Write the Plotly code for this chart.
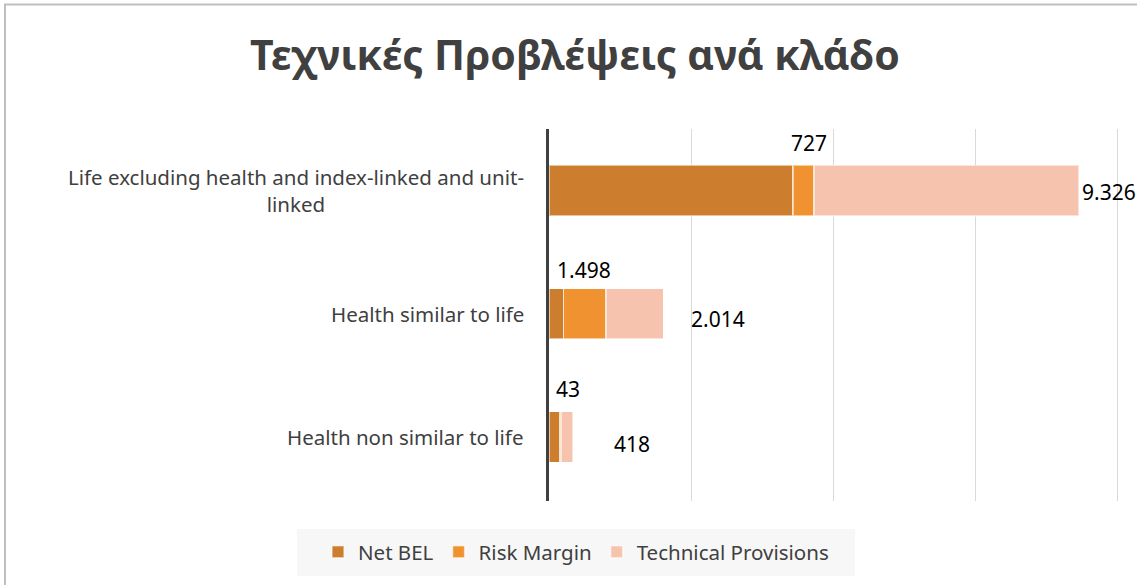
import plotly.graph_objects as go

# ---- data ----
categories = [
    "Life excluding health and index-linked and unit-linked",
    "Health similar to life",
    "Health non similar to life",
]
category_labels = [
    "Life excluding health and index-linked and unit-<br>linked",
    "Health similar to life",
    "Health non similar to life",
]
net_bel = [8599, 516, 375]
risk_margin = [727, 1498, 43]
technical_provisions = [9326, 2014, 418]
series_names = ["Net BEL", "Risk Margin", "Technical Provisions"]
x_ticks = [0, 5000, 10000, 15000, 20000]

title_text = "Τεχνικές Προβλέψεις ανά κλάδο"

# ---- style ----
W, H = 1137, 585
L, T, B = 549, 129, 501          # plot area in pixels
GRID_END = 1117                   # pixel of the last gridline (x = 20000)
R = 1120                          # right edge of plot area (just past last gridline)
x_max = x_ticks[-1] * (R - L) / (GRID_END - L)
colors = ["#CC7E2E", "#F0922F", "#F5C3AE"]
FONT = "Noto Sans"
TXT = "#404040"

def px(xp):
    return (xp - L) / (R - L)

def py(yp):
    return (B - yp) / (B - T)

def fmt(v):
    return f"{v:,}".replace(",", ".")

fig = go.Figure()
for name, vals, col in zip(series_names, [net_bel, risk_margin, technical_provisions], colors):
    fig.add_trace(go.Bar(
        y=categories, x=vals, name=name, orientation="h",
        marker=dict(color=col, line=dict(color="rgba(255,255,255,0.55)", width=1.5)),
        hoverinfo="x+name",
    ))

annotations = []
# category labels (centered multi-line like the original)
for cat, lab in zip(categories, category_labels):
    annotations.append(dict(
        x=px(526), xref="paper", y=cat, yref="y", text=lab, showarrow=False,
        xanchor="right", yanchor="middle", align="center",
        font=dict(family=FONT, size=20.5, color=TXT),
    ))

# data labels: risk margin above the bar, technical provisions to the right
rm_nudge = [(5, 48), (-1, 44), (8, 48)]
tp_nudge = [(1, -1), (26, -5), (39, -7)]
for i, cat in enumerate(categories):
    annotations.append(dict(
        x=net_bel[i] + risk_margin[i] / 2, y=cat, xref="x", yref="y",
        text=fmt(risk_margin[i]), showarrow=False, xanchor="center", yanchor="middle",
        xshift=rm_nudge[i][0], yshift=rm_nudge[i][1],
        font=dict(family=FONT, size=21, color="#000000"),
    ))
    total = net_bel[i] + risk_margin[i] + technical_provisions[i]
    annotations.append(dict(
        x=total, y=cat, xref="x", yref="y",
        text=fmt(technical_provisions[i]), showarrow=False, xanchor="left", yanchor="middle",
        xshift=tp_nudge[i][0], yshift=tp_nudge[i][1],
        font=dict(family=FONT, size=21, color="#000000"),
    ))

shapes = [
    # legend background
    dict(type="rect", xref="paper", yref="paper", x0=px(297), x1=px(855), y0=py(576), y1=py(529),
         fillcolor="#F7F7F7", line=dict(width=0), layer="below"),
    # chart border
    dict(type="line", xref="paper", yref="paper", x0=px(5), x1=px(5), y0=py(600), y1=py(4.5),
         line=dict(color="#BFBFBF", width=2)),
    dict(type="line", xref="paper", yref="paper", x0=px(4), x1=px(1150), y0=py(4.5), y1=py(4.5),
         line=dict(color="#BFBFBF", width=2)),
]

fig.update_layout(
    width=W, height=H,
    margin=dict(l=L, r=W - R, t=T, b=H - B, pad=0, autoexpand=False),
    barmode="stack", bargap=0.59,
    paper_bgcolor="white", plot_bgcolor="white",
    title=dict(text=f"<b>{title_text}</b>", x=575 / W, xanchor="center",
               y=1 - 56 / H, yanchor="middle",
               font=dict(family=FONT, size=41, color=TXT)),
    xaxis=dict(range=[0, x_max], tickmode="array", tickvals=x_ticks, showticklabels=False,
               showgrid=True, gridcolor="#D9D9D9", gridwidth=1, zeroline=False, showline=False),
    yaxis=dict(categoryorder="array", categoryarray=categories, autorange="reversed",
               showticklabels=False, showline=True, linecolor="#404040", linewidth=3,
               showgrid=False, zeroline=False, ticks=""),
    legend=dict(orientation="h", x=px(576), xanchor="center",
                y=py(552), yanchor="middle", bgcolor="rgba(0,0,0,0)",
                font=dict(family=FONT, size=20.5, color=TXT), traceorder="normal"),
    annotations=annotations, shapes=shapes,
    font=dict(family=FONT),
)

fig.write_html("out.html", config={"displayModeBar": False},
               post_script="document.body.style.margin='0';")
